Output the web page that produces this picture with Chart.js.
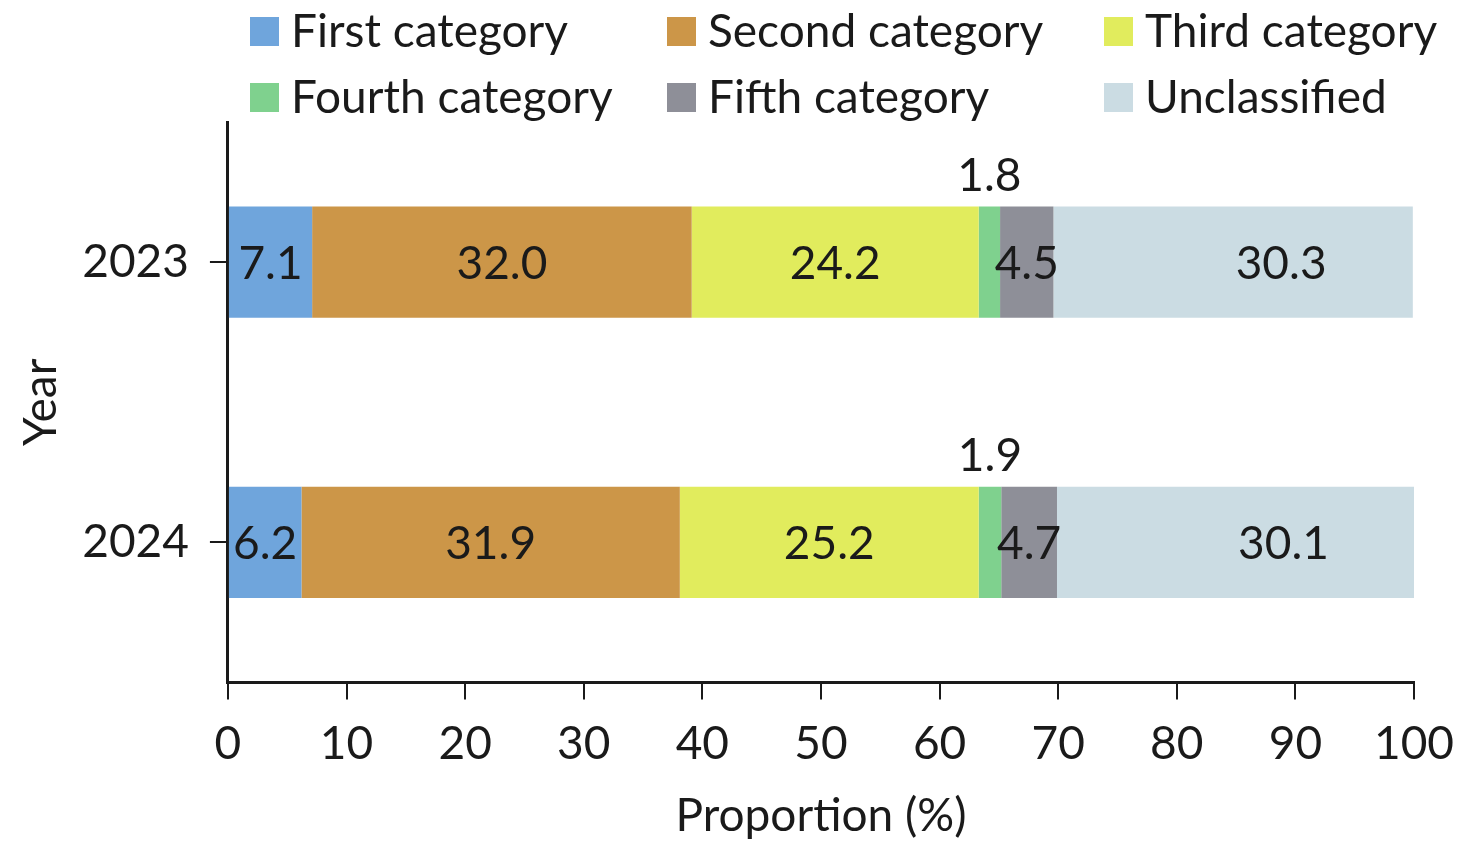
<!DOCTYPE html>
<html>
<head>
<meta charset="utf-8">
<script src="https://cdn.jsdelivr.net/npm/chart.js@4/dist/chart.umd.min.js"></script>
<style>
  html, body { margin: 0; padding: 0; background: #fff; overflow: hidden; }
  canvas { display: block; }
</style>
</head>
<body>
<canvas id="chart" width="1476" height="844" style="width:1476px;height:844px"></canvas>
<script>
const years = ['2023', '2024']
const seriesNames = ['First category', 'Second category', 'Third category', 'Fourth category', 'Fifth category', 'Unclassified']
const first = [7.1, 6.2]
const second = [32.0, 31.9]
const third = [24.2, 25.2]
const fourth = [1.8, 1.9]
const fifth = [4.5, 4.7]
const unclassified = [30.3, 30.1]
const xTicks = [0, 10, 20, 30, 40, 50, 60, 70, 80, 90, 100]

const colors = ['#6fa5dc', '#cc9648', '#e1ec5d', '#7fd18e', '#8e8f98', '#cbdce3']
const FONT = 'Lato, "Open Sans", sans-serif'
const INK = '#1a1a1a'

const values = [first, second, third, fourth, fifth, unclassified]
const datasets = values.map((v, i) => ({
  label: seriesNames[i],
  data: v,
  backgroundColor: colors[i],
  borderWidth: 0,
  barPercentage: 1,
  categoryPercentage: 0.397
}))

// value labels, inside the bar; the thin fourth one goes above
const barLabels = {
  id: 'barLabels',
  afterDatasetsDraw(chart) {
    const ctx = chart.ctx
    ctx.save()
    ctx.font = '46px ' + FONT
    ctx.fillStyle = INK
    ctx.textAlign = 'center'
    chart.data.datasets.forEach((ds, i) => {
      const meta = chart.getDatasetMeta(i)
      meta.data.forEach((bar, j) => {
        const txt = ds.data[j].toFixed(1)
        let cx = (bar.x + bar.base) / 2
        if (i == 5) cx += 48  // last labels sit right of centre in the original
        if (i == 3) {
          ctx.textBaseline = 'alphabetic'
          ctx.fillText(txt, cx, bar.y - bar.height / 2 - 16)
        } else {
          ctx.textBaseline = 'middle'
          ctx.fillText(txt, cx, bar.y + 2)
        }
      })
    })
    ctx.restore()
  }
}

// legend in a fixed 3 x 2 grid
const gridLegend = {
  id: 'gridLegend',
  afterDraw(chart) {
    const ctx = chart.ctx
    const cols = [250, 667, 1104]
    const rows = [31, 97]
    ctx.save()
    ctx.font = '46px ' + FONT
    ctx.textBaseline = 'middle'
    ctx.textAlign = 'left'
    chart.data.datasets.forEach((ds, i) => {
      const x = cols[i % 3]
      const y = rows[Math.floor(i / 3)]
      ctx.fillStyle = ds.backgroundColor
      ctx.fillRect(x, y - 14, 29, 29)
      ctx.fillStyle = INK
      ctx.fillText(ds.label, x + 41, y + 1)
    })
    ctx.restore()
  }
}

const ctx = document.getElementById('chart').getContext('2d')
const chart = new Chart(ctx, {
  type: 'bar',
  data: { labels: years, datasets },
  options: {
    indexAxis: 'y',
    responsive: false,
    animation: false,
    devicePixelRatio: 1,
    layout: { padding: { top: 122, right: 62, left: 14, bottom: 0 } },
    plugins: {
      legend: { display: false },
      tooltip: { enabled: false }
    },
    scales: {
      x: {
        stacked: true,
        min: 0,
        max: 100,
        afterBuildTicks: axis => { axis.ticks = xTicks.map(v => ({ value: v })) },
        border: { color: INK, width: 3 },
        grid: { drawOnChartArea: false, color: INK, lineWidth: 2, tickLength: 17 },
        ticks: { color: INK, font: { family: FONT, size: 46 }, padding: 17, maxRotation: 0 },
        title: { display: true, text: 'Proportion (%)', color: INK, font: { family: FONT, size: 46 }, padding: { top: 0, bottom: 0 } }
      },
      y: {
        stacked: true,
        border: { color: INK, width: 3 },
        grid: { offset: false, drawOnChartArea: false, color: INK, lineWidth: 2, tickLength: 18 },
        ticks: { color: INK, font: { family: FONT, size: 46 }, padding: 21 },
        title: { display: true, text: 'Year', color: INK, font: { family: FONT, size: 46 }, padding: { top: 0, bottom: -8 } }
      }
    }
  },
  plugins: [barLabels, gridLegend]
})
</script>
</body>
</html>
